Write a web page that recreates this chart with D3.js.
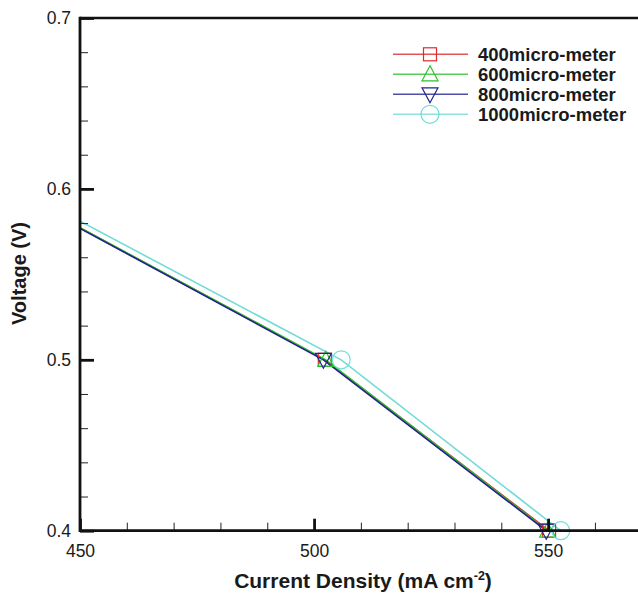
<!DOCTYPE html>
<html>
<head>
<meta charset="utf-8">
<script src="https://cdn.jsdelivr.net/npm/d3@7"></script>
<style>
  html, body { margin: 0; padding: 0; background: #fff; }
  svg { display: block; }
  text { font-family: "Liberation Sans", Arial, Helvetica, sans-serif; fill: #1a1a1a; }
</style>
</head>
<body>
<svg id="chart" width="638" height="596"></svg>
<script>
// Polarization data: current density (mA cm-2) vs. voltage (V) per channel width
const seriesNames = ["400micro-meter", "600micro-meter", "800micro-meter", "1000micro-meter"];
const currentDensity400  = [434.5, 502.3, 550.2];
const currentDensity600  = [434.6, 502.5, 549.9];
const currentDensity800  = [434.4, 502.0, 549.6];
const currentDensity1000 = [437.0, 505.8, 552.7];
const voltage400  = [0.6, 0.5, 0.4];
const voltage600  = [0.6, 0.5, 0.4];
const voltage800  = [0.6, 0.5, 0.4];
const voltage1000 = [0.6, 0.5, 0.4];
const xMajorTicks = [450, 500, 550];
const yMajorTicks = [0.4, 0.5, 0.6, 0.7];

const colors = ["#dd2a2a", "#2cbf2c", "#22238f", "#72dcd6"];
const symbols = ["square", "triangleUp", "triangleDown", "circle"];

const series = [
  { name: seriesNames[0], x: currentDensity400,  y: voltage400 },
  { name: seriesNames[1], x: currentDensity600,  y: voltage600 },
  { name: seriesNames[2], x: currentDensity800,  y: voltage800 },
  { name: seriesNames[3], x: currentDensity1000, y: voltage1000 }
].map((s, i) => ({ ...s, color: colors[i], symbol: symbols[i],
  points: s.x.map((v, j) => ({ x: v, y: s.y[j] })) }));

const svg = d3.select("#chart");
const plotLeft = 80, plotRight = 638, plotTop = 18, plotBottom = 530.7;

const x = d3.scaleLinear().domain([450, 569.2]).range([plotLeft, plotRight]);
const y = d3.scaleLinear().domain([0.4, 0.7]).range([plotBottom, plotTop]);

svg.append("defs").append("clipPath").attr("id", "plotClip")
  .append("rect").attr("x", plotLeft).attr("y", plotTop)
  .attr("width", plotRight - plotLeft).attr("height", plotBottom - plotTop);

// Marker shapes drawn around (0,0)
function marker(g, kind, color) {
  if (kind === "square") {
    g.append("rect").attr("x", -6.5).attr("y", -6.5).attr("width", 13).attr("height", 13);
  } else if (kind === "triangleUp") {
    g.append("path").attr("d", "M0,-8.5L8,6.5L-8,6.5Z");
  } else if (kind === "triangleDown") {
    g.append("path").attr("d", "M0,8.5L8,-6.5L-8,-6.5Z");
  } else {
    g.append("circle").attr("r", 9);
  }
  g.selectAll("*").attr("fill", "none").attr("stroke", color).attr("stroke-width", 1.2);
}

// Lines (clipped to plot area)
const line = d3.line().x(d => x(d.x)).y(d => y(d.y));
const lineLayer = svg.append("g").attr("clip-path", "url(#plotClip)");
series.forEach(s => {
  lineLayer.append("path").datum(s.points)
    .attr("d", line).attr("fill", "none")
    .attr("stroke", s.color).attr("stroke-width", 1.6);
});

// Markers
series.forEach(s => {
  s.points.filter(p => p.x >= 450).forEach(p => {
    const g = svg.append("g").attr("transform", `translate(${x(p.x)},${y(p.y)})`);
    marker(g, s.symbol, s.color);
  });
});

// Axes with inward ticks
const xMinor = d3.range(460, 570, 10).filter(v => !xMajorTicks.includes(v));
const yMinor = d3.range(0.42, 0.7, 0.02).filter(v => !yMajorTicks.some(t => Math.abs(t - v) < 1e-6));

const xAxisMinor = svg.append("g").attr("transform", `translate(0,${plotBottom})`)
  .call(d3.axisBottom(x).tickValues(xMinor).tickSize(-8).tickFormat(""));
const xAxisMajor = svg.append("g").attr("transform", `translate(0,${plotBottom})`)
  .call(d3.axisBottom(x).tickValues(xMajorTicks).tickSize(-12).tickPadding(14).tickFormat(d3.format("d")));
const yAxisMinor = svg.append("g").attr("transform", `translate(${plotLeft},0)`)
  .call(d3.axisLeft(y).tickValues(yMinor).tickSize(-8).tickFormat(""));
const yAxisMajor = svg.append("g").attr("transform", `translate(${plotLeft},0)`)
  .call(d3.axisLeft(y).tickValues(yMajorTicks).tickSize(-14).tickPadding(9).tickFormat(d3.format(".1f")));

[xAxisMinor, xAxisMajor, yAxisMinor, yAxisMajor].forEach(a => a.select(".domain").remove());
[xAxisMinor, yAxisMinor].forEach(a => a.selectAll(".tick line").attr("stroke", "#222").attr("stroke-width", 1));
[xAxisMajor, yAxisMajor].forEach(a => {
  a.selectAll(".tick line").attr("stroke", "#111").attr("stroke-width", 2.8);
  a.selectAll(".tick text").attr("font-size", 17.5).attr("fill", "#1a1a1a")
    .attr("font-family", "Liberation Sans, Arial, sans-serif");
});

// Frame: left, bottom and top borders
svg.append("line").attr("x1", plotLeft).attr("x2", plotLeft).attr("y1", plotTop - 1.3).attr("y2", plotBottom + 1.3)
  .attr("stroke", "#111").attr("stroke-width", 2.8);
svg.append("line").attr("x1", plotLeft).attr("x2", plotRight).attr("y1", plotBottom).attr("y2", plotBottom)
  .attr("stroke", "#111").attr("stroke-width", 2.8);
svg.append("line").attr("x1", plotLeft).attr("x2", plotRight).attr("y1", plotTop).attr("y2", plotTop)
  .attr("stroke", "#111").attr("stroke-width", 2.4);

// Axis titles
const xt = svg.append("text").attr("x", 363).attr("y", 588)
  .attr("text-anchor", "middle").attr("font-size", 21).attr("font-weight", "bold");
xt.append("tspan").text("Current Density (mA cm");
xt.append("tspan").attr("font-size", 12.5).attr("dy", -8).text("-2");
xt.append("tspan").attr("dy", 8).text(")");

svg.append("text").attr("transform", "translate(25.5,273.5) rotate(-90)")
  .attr("text-anchor", "middle").attr("font-size", 20).attr("font-weight", "bold")
  .text("Voltage (V)");

// Legend
const legend = svg.append("g");
series.forEach((s, i) => {
  const cy = 54.3 + i * 20;
  legend.append("line").attr("x1", 393).attr("x2", 468).attr("y1", cy).attr("y2", cy)
    .attr("stroke", s.color).attr("stroke-width", 1.6).attr("opacity", 0.8);
  const g = legend.append("g").attr("transform", `translate(430,${cy})`);
  marker(g, s.symbol, s.color);
  legend.append("text").attr("x", 478).attr("y", cy).attr("dy", "0.36em")
    .attr("font-size", 18.5).attr("font-weight", "bold").text(s.name);
});
</script>
</body>
</html>
